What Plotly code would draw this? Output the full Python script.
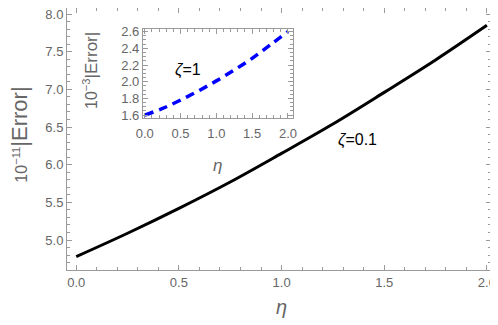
import plotly.graph_objects as go

# main curve (zeta = 0.1), values in units of 1e-11
eta_main = [0.0, 0.25, 0.5, 0.75, 1.0, 1.25, 1.5, 1.75, 2.0]
err_main = [4.78, 5.09, 5.42, 5.77, 6.15, 6.54, 6.96, 7.39, 7.85]

# inset curve (zeta = 1), values in units of 1e-3
eta_inset = [0.0, 0.25, 0.5, 0.75, 1.0, 1.25, 1.5, 1.75, 2.0]
err_inset = [1.60, 1.68, 1.78, 1.89, 2.01, 2.14, 2.28, 2.44, 2.60]

main_xticks = [0.0, 0.5, 1.0, 1.5, 2.0]
main_yticks = [5.0, 5.5, 6.0, 6.5, 7.0, 7.5, 8.0]
inset_xticks = [0.0, 0.5, 1.0, 1.5, 2.0]
inset_yticks = [1.6, 1.8, 2.0, 2.2, 2.4, 2.6]

FRAME = "#9a9a9a"
LABEL = "#666666"
FONT = "Liberation Sans, Arial, sans-serif"

fig = go.Figure()

fig.add_trace(go.Scatter(
    x=eta_main, y=err_main, mode="lines",
    line=dict(color="black", width=3, shape="spline"),
    xaxis="x", yaxis="y", showlegend=False,
))
fig.add_trace(go.Scatter(
    x=eta_inset, y=err_inset, mode="lines",
    line=dict(color="#0000ff", width=3.5, dash="9px,6px", shape="spline"),
    xaxis="x2", yaxis="y2", showlegend=False,
))


def frame_axis(**kw):
    base = dict(
        showline=True, linecolor=FRAME, linewidth=1, mirror="ticks",
        ticks="inside", ticklen=5, tickcolor=FRAME, tickwidth=1,
        showgrid=False, zeroline=False, automargin=False,
        tickfont=dict(size=13, color=LABEL, family=FONT),
        minor=dict(ticks="inside", ticklen=3, tickcolor=FRAME, dtick=0.1, showgrid=False),
        tickformat=".1f",
    )
    base.update(kw)
    return base


def label(text, x, y, size, color=LABEL, angle=0, xanchor="center"):
    fig.add_annotation(
        text=text, xref="paper", yref="paper", x=x, y=y,
        xanchor=xanchor, yanchor="middle", textangle=angle,
        showarrow=False, font=dict(size=size, color=color, family=FONT),
    )


# page body has an 8px margin, so the figure is sized to fit the window
fig.update_layout(
    width=490, height=317,
    margin=dict(l=59, r=7, t=0, b=55),
    paper_bgcolor="white", plot_bgcolor="white",
    font=dict(family=FONT),
    xaxis=frame_axis(range=[-0.045, 2.02], tickvals=main_xticks, ticklabelstandoff=0),
    yaxis=frame_axis(range=[4.602, 8.08], tickvals=main_yticks, ticklabelstandoff=0,
                     ticklabeloverflow="allow"),
    xaxis2=frame_axis(range=[-0.025, 2.07], tickvals=inset_xticks,
                      domain=[0.179, 0.533], anchor="y2", ticklabelstandoff=3),
    yaxis2=frame_axis(range=[1.565, 2.632], tickvals=inset_yticks,
                      domain=[0.580, 0.920], anchor="x2", ticklabelstandoff=0,
                      minor=dict(ticks="inside", ticklen=3, tickcolor=FRAME,
                                 dtick=0.05, showgrid=False)),
)

# axis titles and curve labels
label("10<sup>−11</sup><span style='font-size:22px'>|Error|</span>", -0.113, 0.517, 16, angle=-90)
label("<i>η</i>", 0.507, -0.141, 20)
label("10<sup>−3</sup><span style='font-size:17px'>|Error|</span>", 0.054, 0.763, 16, angle=-90)
label("<i>η</i>", 0.354, 0.40, 17)
label("<i>ζ</i>=1", 0.25, 0.763, 16, color="black", xanchor="left")
label("<i>ζ</i>=0.1", 0.634, 0.496, 16, color="black", xanchor="left")

fig.write_html("out.html")
